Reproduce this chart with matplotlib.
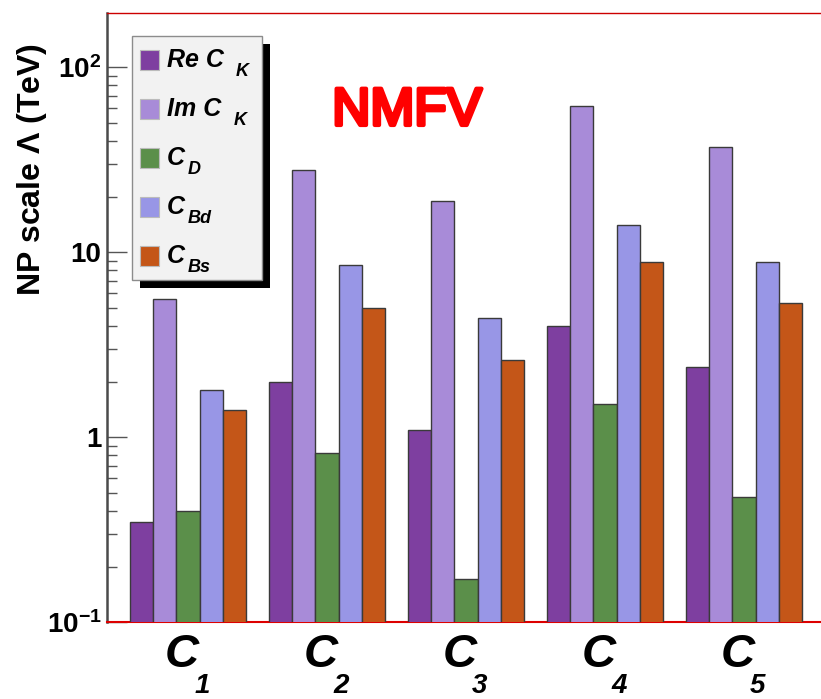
import matplotlib

matplotlib.use("Agg")
import matplotlib.pyplot as plt
import matplotlib.patheffects as pe
import numpy as np
from matplotlib.patches import Rectangle
from matplotlib.ticker import FixedLocator, LogLocator, NullFormatter

# operators C1..C5 and the five constraints
groups = ["1", "2", "3", "4", "5"]
series_main = ["Re C", "Im C", "C", "C", "C"]
series_sub = ["K", "K", "D", "Bd", "Bs"]
colors = ["#7e3fa0", "#a88bd8", "#5b8f4a", "#9896e6", "#c45618"]

# NP scale Lambda in TeV
re_ck = [0.35, 2.0, 1.1, 4.0, 2.41]
im_ck = [5.6, 27.9, 19.0, 62.0, 37.0]
c_d = [0.40, 0.82, 0.171, 1.51, 0.474]
c_bd = [1.79, 8.5, 4.4, 14.0, 8.8]
c_bs = [1.40, 5.0, 2.61, 8.8, 5.3]
values = [re_ck, im_ck, c_d, c_bd, c_bs]

ytick_values = [0.1, 1, 10, 100]
ytick_labels = [r"$\mathbf{10^{-1}}$", "1", "10", r"$\mathbf{10^{2}}$"]

plt.rcParams["font.family"] = ["Liberation Sans", "DejaVu Sans"]
plt.rcParams["font.weight"] = "bold"
plt.rcParams["mathtext.fontset"] = "custom"
plt.rcParams["mathtext.rm"] = "Liberation Sans:bold"
plt.rcParams["mathtext.bf"] = "Liberation Sans:bold"
plt.rcParams["mathtext.it"] = "Liberation Sans:italic:bold"

W, H = 821, 699
fig = plt.figure(figsize=(W / 100, H / 100), dpi=100)


def fpos(x, y):
    return x / W, 1 - y / H


ax = fig.add_axes([107 / W, (H - 622.3) / H, 718 / W, (622.3 - 12.7) / H])
ax.set_yscale("log")

starts = np.arange(len(groups)) * 6
for j, vals in enumerate(values):
    ax.bar(starts + j + 1.5, vals, width=1.0, color=colors[j],
           edgecolor="#3a3a3a", linewidth=1.0, zorder=3)

ax.set_xlim(0, 31)
ax.set_ylim(0.1, 197)

ax.yaxis.set_major_locator(FixedLocator(ytick_values))
ax.set_yticklabels(ytick_labels)
ax.yaxis.set_minor_locator(LogLocator(base=10, subs=np.arange(2, 10)))
ax.yaxis.set_minor_formatter(NullFormatter())
ax.tick_params(axis="y", which="major", direction="in", length=14.4, width=1,
               color="#555555", labelsize=20, pad=4)
ax.tick_params(axis="y", which="minor", direction="in", length=7.2, width=1,
               color="#555555")
ax.tick_params(axis="x", which="both", bottom=False, labelbottom=False)

ax.spines["right"].set_visible(False)
ax.spines["top"].set_color("#cc0000")
ax.spines["top"].set_linewidth(1.0)
ax.spines["bottom"].set_color("#dd0000")
ax.spines["bottom"].set_linewidth(1.5)
ax.spines["left"].set_color("#4a4a4a")
ax.spines["left"].set_linewidth(1.8)

ax.set_ylabel(r"NP scale $\Lambda$ (TeV)", fontsize=23, fontweight="bold")
ax.yaxis.set_label_coords(-0.081, 0.742)

# group labels C_1 ... C_5 with a deep subscript
xtrans = ax.get_xaxis_transform()
for i, g in enumerate(groups):
    ax.text(starts[i] + 3.22, -0.073, "C", transform=xtrans, ha="center",
            va="baseline", fontsize=34, fontweight="bold", style="italic")
    ax.text(starts[i] + 4.1, -0.116, g, transform=xtrans, ha="center",
            va="baseline", fontsize=20, fontweight="bold", style="italic")

# legend box drawn by hand, with the heavy black drop shadow
fig.add_artist(Rectangle(fpos(140, 288), 130 / W, 244 / H, transform=fig.transFigure,
                         facecolor="black", edgecolor="none", zorder=5))
fig.add_artist(Rectangle(fpos(132, 280), 130 / W, 244 / H, transform=fig.transFigure,
                         facecolor="#f2f2f2", edgecolor="#8c8c8c", linewidth=1, zorder=6))
fig.canvas.draw()
renderer = fig.canvas.get_renderer()
for k, (main, sub) in enumerate(zip(series_main, series_sub)):
    yc = 60 + 49 * k
    fig.add_artist(Rectangle(fpos(140, yc + 9.5), 19 / W, 19 / H, transform=fig.transFigure,
                             facecolor=colors[k], edgecolor="#bbbbbb", linewidth=0.8, zorder=7))
    t = fig.text(*fpos(167, yc + 7), main, fontsize=18, fontweight="bold",
                 style="italic", va="baseline", ha="left", zorder=8)
    bb = t.get_window_extent(renderer)
    gap = 12 if sub == "K" else 3
    fig.text((bb.x1 + gap) / W, (bb.y0 - 4) / H, sub,
             fontsize=13, fontweight="bold", style="italic", va="baseline",
             ha="left", zorder=8)

fig.text(*fpos(407, 111), "NMFV", color="#ff0000", fontsize=38, fontweight="normal",
         ha="center", va="center",
         path_effects=[pe.withStroke(linewidth=3, foreground="#ff0000",
                                     joinstyle="round", capstyle="round")])

fig.savefig("out.png", dpi=100)
